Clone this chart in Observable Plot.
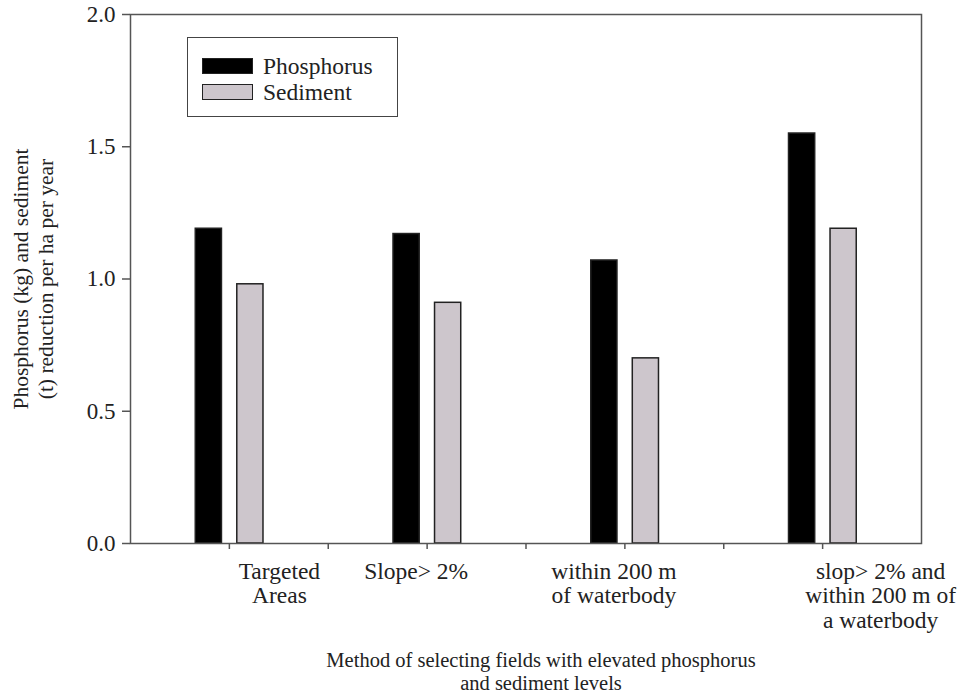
<!DOCTYPE html>
<html>
<head>
<meta charset="utf-8">
<script src="https://cdn.jsdelivr.net/npm/d3@7"></script>
<script src="https://cdn.jsdelivr.net/npm/@observablehq/plot@0.6"></script>
</head>
<body style="margin:0;padding:0;background:#fff">
<div id="wrap" style="position:relative;width:963px;height:696px;font-family:'Liberation Serif';color:#222"></div>
<script>
const categories = ["Targeted\nAreas", "Slope> 2%", "within 200 m\nof waterbody", "slop> 2% and\nwithin 200 m of\na waterbody"];
const phosphorus = [1.19, 1.17, 1.07, 1.55];
const sediment = [0.98, 0.91, 0.70, 1.19];
const seriesNames = ["Phosphorus", "Sediment"];
const seriesColors = ["#000000", "#cdc6cc"];
const yTicks = [0, 0.5, 1.0, 1.5, 2.0];
const xTicks = [1, 2, 3, 4, 5, 6, 7];
const yLabel = "Phosphorus (kg) and sediment\n(t) reduction per ha per year";
const xLabel = "Method of selecting fields with elevated phosphorus\nand sediment levels";

const rows = [];
categories.forEach((c, i) => {
  rows.push({cat: c, pos: 2 * i + 1, series: seriesNames[0], value: phosphorus[i]});
  rows.push({cat: c, pos: 2 * i + 1, series: seriesNames[1], value: sediment[i]});
});
const barW = 0.265;
const bx1 = d => d.pos + (d.series === seriesNames[0] ? -0.34 : 0.08);
const labelShift = [50, -11, -11, 58];
const labelRows = categories.map((c, i) => ({text: c, pos: 2 * i + 1, shift: labelShift[i]}));

const FONT = "Liberation Serif";
const chart = Plot.plot({
  width: 963,
  height: 696,
  marginLeft: 130,
  marginRight: 42,
  marginTop: 14,
  marginBottom: 153,
  style: {fontSize: "22px", color: "#222", background: "#fff"},
  x: {domain: [0, 8], axis: null},
  y: {domain: [0, 2], axis: null},
  color: {domain: seriesNames, range: seriesColors},
  marks: [
    Plot.rect(rows, {
      x1: bx1, x2: d => bx1(d) + barW, y1: 0, y2: "value",
      fill: "series", stroke: "#222", strokeWidth: 1.5
    }),
    Plot.frame({stroke: "#555", strokeWidth: 1.5}),
    Plot.axisY({ticks: yTicks, tickFormat: d3.format(".1f"), tickSize: 8, tickPadding: 7, stroke: "#555", strokeWidth: 1.5, fontSize: 23, fontFamily: FONT, label: null}),
    Plot.axisX({ticks: xTicks, tickFormat: () => "", tickSize: 6, stroke: "#555", strokeWidth: 1.5, label: null}),
    ...labelRows.map(l => Plot.text([l], {
      x: "pos", text: "text", frameAnchor: "bottom", lineAnchor: "top",
      dy: 18, dx: l.shift, lineHeight: 1.04, fontSize: 23.5, fontFamily: FONT, fill: "#222"
    })),
    Plot.text([yLabel], {
      frameAnchor: "left", rotate: -90, dx: -98, lineHeight: 1.16, fontSize: 21.5, fontFamily: FONT, fill: "#222", textAnchor: "middle", lineAnchor: "middle"
    }),
    Plot.text([xLabel], {
      frameAnchor: "bottom", lineAnchor: "top", dy: 107, dx: 15, lineHeight: 1.12, fontSize: 20.5, fontFamily: FONT, fill: "#222"
    })
  ]
});
d3.select(chart).selectAll("text").style("font-family", "'Liberation Serif'");

const wrap = document.getElementById("wrap");
wrap.appendChild(chart);
const legend = document.createElement("div");
legend.style.cssText = "position:absolute;left:187px;top:37px;width:209px;height:78px;border:1.5px solid #444;background:#fff;font-family:'Liberation Serif'";
seriesNames.forEach((s, i) => {
  const it = document.createElement("div");
  it.style.cssText = `position:absolute;left:14px;top:${19 + i * 26}px;height:18px;display:flex;align-items:center;font-size:23.5px;font-family:'Liberation Serif'`;
  const sw = document.createElement("div");
  sw.style.cssText = `width:49px;height:14px;border:1.5px solid #222;margin-right:10px;background:${seriesColors[i]}`;
  it.appendChild(sw);
  const t = document.createElement("span");
  t.textContent = s;
  it.appendChild(t);
  legend.appendChild(it);
});
wrap.appendChild(legend);
</script>
</body>
</html>
